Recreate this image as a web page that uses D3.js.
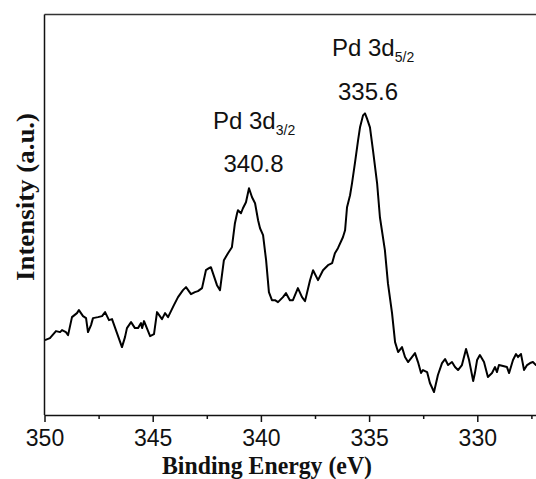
<!DOCTYPE html>
<html>
<head>
<meta charset="utf-8">
<script src="https://cdn.jsdelivr.net/npm/d3@7/dist/d3.min.js"></script>
<style>
  html, body { margin: 0; padding: 0; background: #fff; }
  svg { display: block; }
</style>
</head>
<body>
<svg id="chart" width="536" height="479"></svg>
<script>
// Binding energy (eV) and intensity (a.u.)
const energy = [
  349.98, 349.75, 349.47, 349.28, 349.19, 349.01, 348.91, 348.73, 348.50, 348.41,
  348.22, 348.08, 347.99, 347.85, 347.76, 347.53, 347.34, 347.20, 347.02, 346.88,
  346.65, 346.42, 346.28, 346.19, 346.00, 345.82, 345.68, 345.54, 345.49, 345.40,
  345.12, 344.94, 344.80, 344.57, 344.43, 344.29, 344.02, 343.83, 343.60, 343.46,
  343.23, 343.05, 342.91, 342.72, 342.54, 342.40, 342.31, 342.17, 342.03, 341.89,
  341.71, 341.52, 341.34, 341.20, 341.10, 341.06, 340.92, 340.83, 340.69, 340.55,
  340.41, 340.27, 340.13, 340.04, 339.90, 339.76, 339.63, 339.49, 339.35, 339.21,
  338.98, 338.84, 338.66, 338.52, 338.29, 338.10, 337.96, 337.73, 337.59, 337.36,
  337.13, 336.90, 336.71, 336.58, 336.44, 336.21, 336.11, 336.02, 335.88, 335.79,
  335.65, 335.51, 335.42, 335.28, 335.19, 335.10, 334.96, 334.82, 334.63, 334.50,
  334.27, 334.13, 333.94, 333.80, 333.66, 333.48, 333.34, 333.20, 333.02, 332.88,
  332.74, 332.60, 332.51, 332.32, 332.19, 332.00, 331.82, 331.63, 331.49, 331.35,
  331.17, 331.03, 330.89, 330.71, 330.52, 330.38, 330.19, 330.11, 330.01, 329.88,
  329.69, 329.51, 329.32, 329.18, 329.09, 329.00, 328.81, 328.63, 328.53, 328.35,
  328.21, 328.12, 327.98, 327.84, 327.70, 327.56, 327.43, 327.29, 327.15
];
const intensity = [
  75, 77, 84, 83, 85, 83, 80, 98, 102, 105,
  99, 97, 83, 90, 97, 98, 99, 103, 95, 96,
  82, 68, 78, 87, 93, 87, 87, 92, 87, 94,
  79, 81, 103, 96, 102, 98, 110, 118, 125, 128,
  121, 123, 124, 127, 145, 147, 148, 139, 130, 125,
  155, 162, 168, 192, 202, 205, 202, 207, 213, 227,
  218, 212, 195, 187, 180, 155, 123, 115, 115, 113,
  118, 122, 115, 115, 127, 118, 114, 135, 145, 135,
  145, 150, 152, 162, 167, 178, 185, 208, 220, 232,
  253, 275, 288, 300, 302, 297, 288, 265, 232, 198,
  165, 132, 102, 73, 63, 68, 58, 53, 58, 62,
  53, 42, 45, 43, 32, 23, 40, 52, 56, 50,
  53, 48, 45, 50, 66, 55, 34, 42, 55, 60,
  53, 38, 42, 48, 43, 50, 49, 48, 42, 55,
  61, 58, 61, 45, 50, 52, 53, 50, 52
];
const majorTicks = [350, 345, 340, 335, 330];
const minorTicks = [347.5, 342.5, 337.5, 332.5, 327.5];
const xDomain = [350, 327];
const yDomain = [0, 401];
const peakLabels = [
  { name: "Pd 3d", sub: "5/2", value: "335.6", energy: 335.6 },
  { name: "Pd 3d", sub: "3/2", value: "340.8", energy: 340.8 }
];

const svg = d3.select("#chart");
const W = 536, H = 479;
const mLeft = 44.5, mTop = 14.5, mBottom = 415;

const x = d3.scaleLinear().domain(xDomain).range([mLeft, mLeft + 23 * 21.64]);
const y = d3.scaleLinear().domain(yDomain).range([mBottom, mTop]);

svg.append("defs").append("clipPath").attr("id", "clip")
  .append("rect").attr("x", mLeft).attr("y", mTop).attr("width", W - mLeft).attr("height", mBottom - mTop);

// spectrum line
const line = d3.line().x((d, i) => x(energy[i])).y(d => y(d)).curve(d3.curveLinear);
svg.append("path")
  .datum(intensity)
  .attr("clip-path", "url(#clip)")
  .attr("d", line)
  .attr("fill", "none")
  .attr("stroke", "#000")
  .attr("stroke-width", 2)
  .attr("stroke-linejoin", "round");

// frame
svg.append("line").attr("x1", mLeft).attr("x2", W).attr("y1", mTop).attr("y2", mTop)
  .attr("stroke", "#333").attr("stroke-width", 1.5);
svg.append("line").attr("x1", mLeft).attr("x2", mLeft).attr("y1", mTop).attr("y2", mBottom)
  .attr("stroke", "#111").attr("stroke-width", 1.5);

// bottom axis
const xAxis = d3.axisBottom(x).tickValues(majorTicks).tickSize(7).tickSizeOuter(0).tickPadding(8)
  .tickFormat(d3.format("d"));
const gx = svg.append("g").attr("transform", `translate(0,${mBottom})`).call(xAxis);
gx.select(".domain").attr("stroke", "#111").attr("stroke-width", 1.5);
gx.selectAll(".tick line").attr("stroke", "#111").attr("stroke-width", 1.5);
gx.selectAll(".tick text").attr("font-family", "Liberation Sans, Arial, sans-serif")
  .attr("font-size", 23).attr("fill", "#111");

const xMinor = d3.axisBottom(x).tickValues(minorTicks).tickSize(4).tickSizeOuter(0).tickFormat("");
const gm = svg.append("g").attr("transform", `translate(0,${mBottom})`).call(xMinor);
gm.select(".domain").remove();
gm.selectAll(".tick line").attr("stroke", "#111").attr("stroke-width", 1.5);

// axis titles
svg.append("text").attr("x", 267).attr("y", 474).attr("text-anchor", "middle")
  .attr("font-family", "Liberation Serif, Times New Roman, serif").attr("font-weight", "bold")
  .attr("font-size", 25).attr("textLength", 210).attr("lengthAdjust", "spacingAndGlyphs")
  .attr("fill", "#111").text("Binding Energy (eV)");

svg.append("text").attr("transform", "translate(34,197) rotate(-90)").attr("text-anchor", "middle")
  .attr("font-family", "Liberation Serif, Times New Roman, serif").attr("font-weight", "bold")
  .attr("font-size", 26).attr("textLength", 168).attr("lengthAdjust", "spacingAndGlyphs")
  .attr("fill", "#111").text("Intensity (a.u.)");

// peak annotations
const annPos = [
  { nameX: 332, nameY: 56, valX: 368, valY: 100 },
  { nameX: 213, nameY: 129, valX: 253.5, valY: 172 }
];
peakLabels.forEach((p, i) => {
  const a = annPos[i];
  const t = svg.append("text").attr("x", a.nameX).attr("y", a.nameY)
    .attr("font-family", "Liberation Sans, Arial, sans-serif").attr("font-size", 24).attr("fill", "#111");
  t.append("tspan").text(p.name);
  t.append("tspan").attr("font-size", 14).attr("dy", 6).text(p.sub);
  svg.append("text").attr("x", a.valX).attr("y", a.valY).attr("text-anchor", "middle")
    .attr("font-family", "Liberation Sans, Arial, sans-serif").attr("font-size", 24).attr("fill", "#111")
    .text(p.value);
});
</script>
</body>
</html>
